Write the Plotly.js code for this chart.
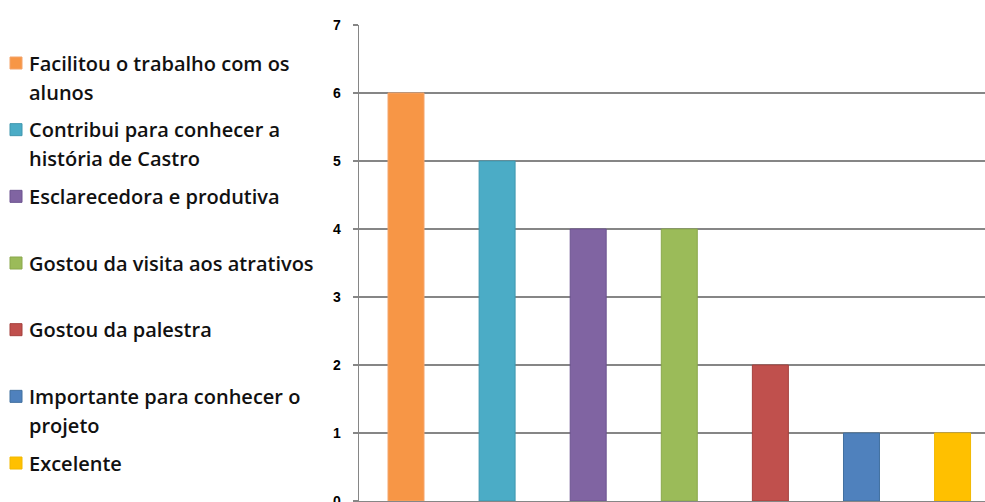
<!DOCTYPE html>
<html>
<head>
<meta charset="utf-8">
<script src="https://cdn.plot.ly/plotly-3.0.1.min.js"></script>
<style>
  html, body { margin: 0; padding: 0; background: #ffffff; overflow: hidden; }
  #chart { width: 985px; height: 502px; }
</style>
</head>
<body>
<div id="chart"></div>
<script>
// Survey answers: how many respondents gave each comment
const categories = [
  'Facilitou o trabalho com os alunos',
  'Contribui para conhecer a história de Castro',
  'Esclarecedora e produtiva',
  'Gostou da visita aos atrativos',
  'Gostou da palestra',
  'Importante para conhecer o projeto',
  'Excelente'
];
// Legend text, wrapped the way it is printed
const legendLines = [
  ['Facilitou o trabalho com os', 'alunos'],
  ['Contribui para conhecer a', 'história de Castro'],
  ['Esclarecedora e produtiva'],
  ['Gostou da visita aos atrativos'],
  ['Gostou da palestra'],
  ['Importante para conhecer o', 'projeto'],
  ['Excelente']
];
const values = [6, 5, 4, 4, 2, 1, 1];
const barColors = ['#F79646', '#4BACC6', '#8064A2', '#9BBB59', '#C0504D', '#4F81BD', '#FFC000'];
const edgeColors = ['#F4A46A', '#3F97AF', '#6C5390', '#8AA84C', '#A5403D', '#41709F', '#F2B800'];
const yTickValues = [0, 1, 2, 3, 4, 5, 6, 7];

// Page geometry (pixels)
const W = 985, H = 502;
const M = { l: 359, r: 0, t: 25, b: 1 };
const plotW = W - M.l - M.r;
const plotH = H - M.t - M.b;
const toPaperX = px => (px - M.l) / plotW;
const toPaperY = py => (H - M.b - py) / plotH;

const gray = '#868686';

const trace = {
  type: 'bar',
  x: categories.map((_, i) => i),
  y: values,
  marker: {
    color: barColors,
    line: { color: edgeColors, width: 1 }
  },
  hoverinfo: 'skip',
  showlegend: false
};

// Legend: one slot per category, evenly spaced down the left side
const annotations = [];
const shapes = [];
const slotTop = 63, slotPitch = 66.67, lineStep = 29;
legendLines.forEach((lines, i) => {
  const yc = slotTop + slotPitch * i;
  shapes.push({
    type: 'rect', xref: 'paper', yref: 'paper',
    x0: toPaperX(10), x1: toPaperX(22),
    y0: toPaperY(yc + 6), y1: toPaperY(yc - 6),
    fillcolor: barColors[i],
    line: { color: edgeColors[i], width: 1 },
    layer: 'above'
  });
  lines.forEach((txt, j) => {
    annotations.push({
      xref: 'paper', yref: 'paper',
      x: toPaperX(27), y: toPaperY(yc + lineStep * j),
      xanchor: 'left', yanchor: 'middle',
      text: txt, showarrow: false,
      font: { family: 'Open Sans, sans-serif', size: 20, color: '#111111', weight: 600 }
    });
  });
});

const layout = {
  width: W, height: H,
  margin: M,
  paper_bgcolor: '#ffffff',
  plot_bgcolor: '#ffffff',
  bargap: 0.605,
  showlegend: false,
  xaxis: {
    range: [-0.516, 6.356],
    showticklabels: false,
    showgrid: false,
    zeroline: false,
    showline: true,
    linecolor: gray,
    linewidth: 1.3,
    ticks: '',
    fixedrange: true
  },
  yaxis: {
    range: [0, 7],
    tickvals: yTickValues,
    ticktext: yTickValues.map(String),
    ticks: 'outside',
    ticklen: 5,
    tickcolor: gray,
    tickwidth: 1.3,
    ticklabelstandoff: 9,
    ticklabeloverflow: 'allow',
    showline: true,
    linecolor: gray,
    linewidth: 1.3,
    showgrid: true,
    gridcolor: gray,
    gridwidth: 1.3,
    zeroline: false,
    tickfont: { family: 'Liberation Sans, Arial, sans-serif', size: 14, color: '#000000', weight: 'bold' },
    fixedrange: true
  },
  annotations: annotations,
  shapes: shapes
};

Plotly.newPlot('chart', [trace], layout, { displayModeBar: false, staticPlot: true });
</script>
</body>
</html>
